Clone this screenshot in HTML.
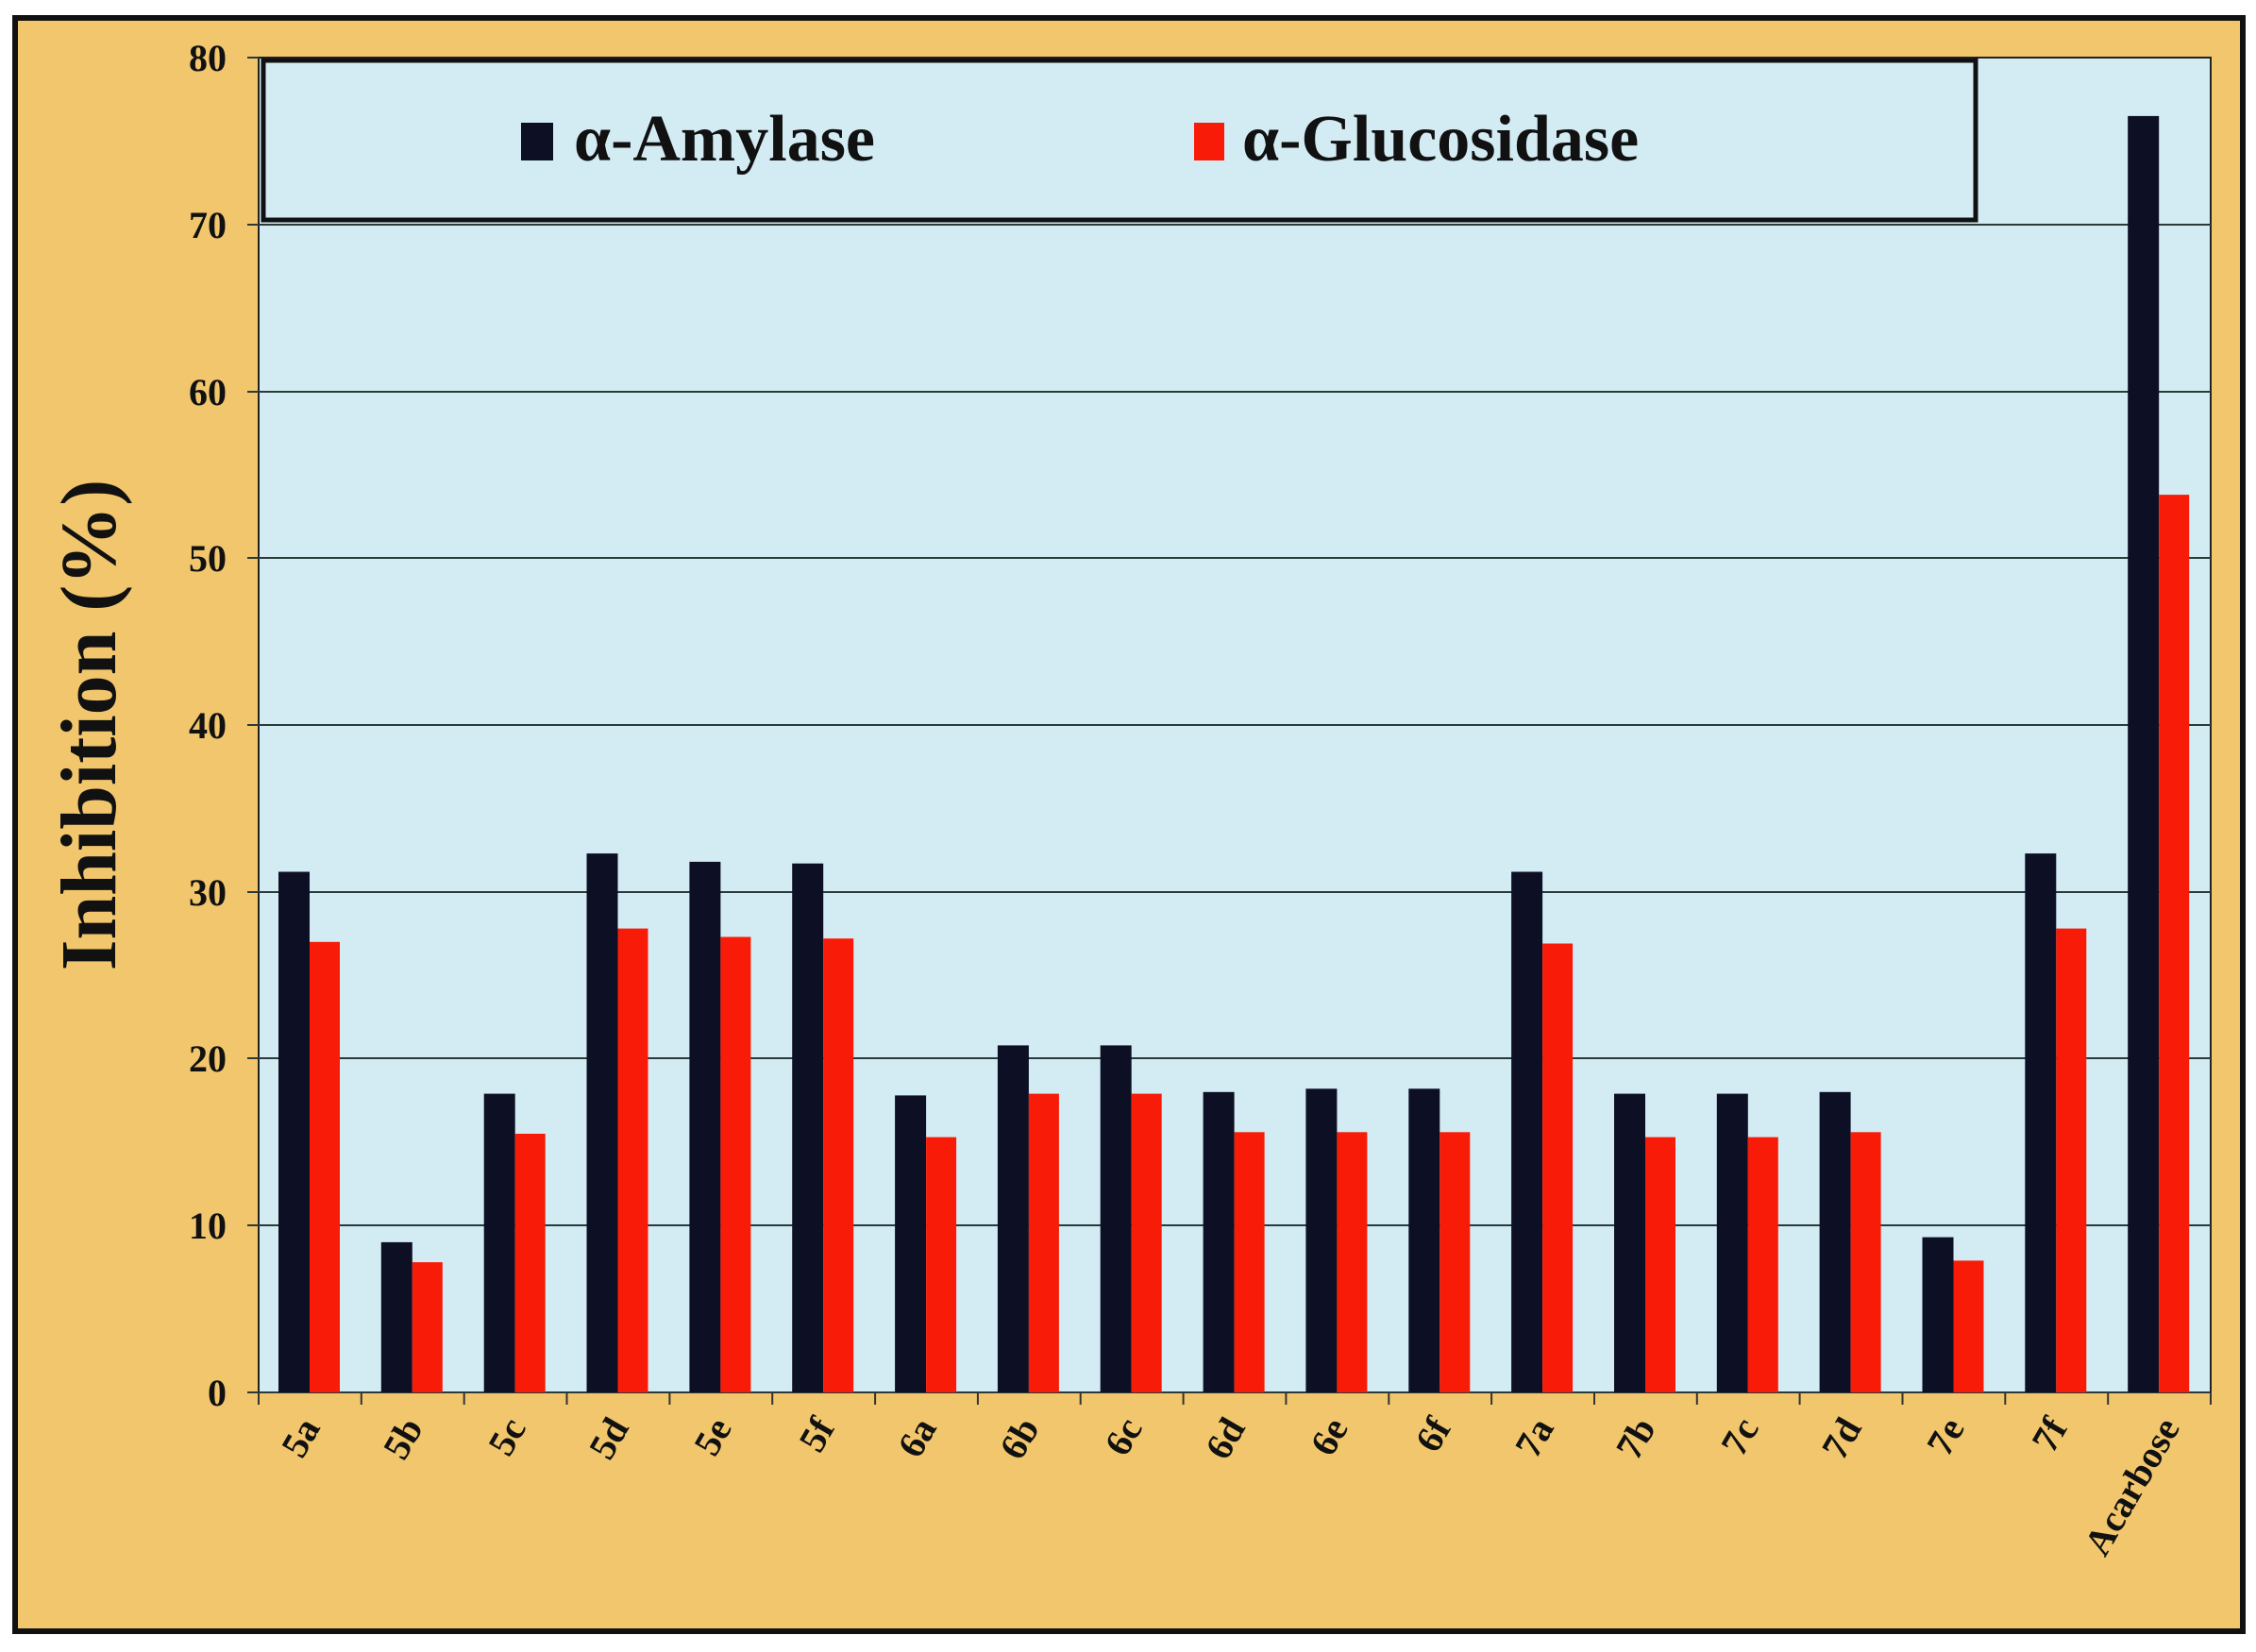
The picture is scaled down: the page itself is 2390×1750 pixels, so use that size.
<!DOCTYPE html>
<html><head><meta charset="utf-8"><style>
html,body{margin:0;padding:0;background:#fff;}
svg{display:block;}
</style></head><body>
<svg width="2390" height="1750" viewBox="0 0 2390 1750" xmlns="http://www.w3.org/2000/svg">
<rect x="0" y="0" width="2390" height="1750" fill="#fff"/>
<rect x="16" y="19" width="2360" height="1709" fill="#f1c66c" stroke="#111" stroke-width="6"/>
<rect x="274" y="61" width="2068" height="1414" fill="#d3ecf4" stroke="#222" stroke-width="2"/>
<g stroke="#2a3a3a" stroke-width="2">
<line x1="262" y1="238" x2="2342" y2="238"/>
<line x1="262" y1="415" x2="2342" y2="415"/>
<line x1="262" y1="591" x2="2342" y2="591"/>
<line x1="262" y1="768" x2="2342" y2="768"/>
<line x1="262" y1="945" x2="2342" y2="945"/>
<line x1="262" y1="1121" x2="2342" y2="1121"/>
<line x1="262" y1="1298" x2="2342" y2="1298"/>
<line x1="262" y1="1475" x2="2342" y2="1475"/>
<line x1="262" y1="61" x2="274" y2="61"/>
</g>
<g font-family="Liberation Serif, serif" font-weight="bold" font-size="40" text-anchor="end" fill="#111">
<text x="240" y="75">80</text><text x="240" y="252">70</text><text x="240" y="429">60</text><text x="240" y="605">50</text><text x="240" y="782">40</text><text x="240" y="959">30</text><text x="240" y="1135">20</text><text x="240" y="1312">10</text><text x="240" y="1489">0</text>
</g>
<text transform="translate(122,768) rotate(-90)" font-family="Liberation Serif, serif" font-weight="bold" font-size="84" text-anchor="middle" fill="#111">Inhibition  (%)</text>
<g fill="#0d1024">
<rect x="295" y="923.5" width="33" height="551.5"/>
<rect x="403.8" y="1315.9" width="33" height="159.1"/>
<rect x="512.7" y="1158.6" width="33" height="316.4"/>
<rect x="621.5" y="904.1" width="33" height="570.9"/>
<rect x="730.4" y="912.9" width="33" height="562.1"/>
<rect x="839.2" y="914.7" width="33" height="560.3"/>
<rect x="948.1" y="1160.4" width="33" height="314.6"/>
<rect x="1056.9" y="1107.4" width="33" height="367.6"/>
<rect x="1165.7" y="1107.4" width="33" height="367.6"/>
<rect x="1274.6" y="1156.8" width="33" height="318.2"/>
<rect x="1383.4" y="1153.3" width="33" height="321.7"/>
<rect x="1492.3" y="1153.3" width="33" height="321.7"/>
<rect x="1601.1" y="923.5" width="33" height="551.5"/>
<rect x="1710" y="1158.6" width="33" height="316.4"/>
<rect x="1818.8" y="1158.6" width="33" height="316.4"/>
<rect x="1927.6" y="1156.8" width="33" height="318.2"/>
<rect x="2036.5" y="1310.6" width="33" height="164.4"/>
<rect x="2145.3" y="904.1" width="33" height="570.9"/>
<rect x="2254.2" y="122.9" width="33" height="1352.1"/>
</g>
<g fill="#f81c08">
<rect x="328" y="997.8" width="32" height="477.2"/>
<rect x="436.8" y="1337.1" width="32" height="137.9"/>
<rect x="545.7" y="1201" width="32" height="274"/>
<rect x="654.5" y="983.6" width="32" height="491.4"/>
<rect x="763.4" y="992.5" width="32" height="482.5"/>
<rect x="872.2" y="994.2" width="32" height="480.8"/>
<rect x="981.1" y="1204.6" width="32" height="270.4"/>
<rect x="1089.9" y="1158.6" width="32" height="316.4"/>
<rect x="1198.7" y="1158.6" width="32" height="316.4"/>
<rect x="1307.6" y="1199.3" width="32" height="275.7"/>
<rect x="1416.4" y="1199.3" width="32" height="275.7"/>
<rect x="1525.3" y="1199.3" width="32" height="275.7"/>
<rect x="1634.1" y="999.5" width="32" height="475.5"/>
<rect x="1743" y="1204.6" width="32" height="270.4"/>
<rect x="1851.8" y="1204.6" width="32" height="270.4"/>
<rect x="1960.6" y="1199.3" width="32" height="275.7"/>
<rect x="2069.5" y="1335.4" width="32" height="139.6"/>
<rect x="2178.3" y="983.6" width="32" height="491.4"/>
<rect x="2287.2" y="524.1" width="32" height="950.9"/>
</g>
<g stroke="#333" stroke-width="2">
<line x1="274" y1="1475" x2="274" y2="1488"/><line x1="382.8" y1="1475" x2="382.8" y2="1488"/><line x1="491.7" y1="1475" x2="491.7" y2="1488"/><line x1="600.5" y1="1475" x2="600.5" y2="1488"/><line x1="709.4" y1="1475" x2="709.4" y2="1488"/><line x1="818.2" y1="1475" x2="818.2" y2="1488"/><line x1="927.1" y1="1475" x2="927.1" y2="1488"/><line x1="1035.9" y1="1475" x2="1035.9" y2="1488"/><line x1="1144.7" y1="1475" x2="1144.7" y2="1488"/><line x1="1253.6" y1="1475" x2="1253.6" y2="1488"/><line x1="1362.4" y1="1475" x2="1362.4" y2="1488"/><line x1="1471.3" y1="1475" x2="1471.3" y2="1488"/><line x1="1580.1" y1="1475" x2="1580.1" y2="1488"/><line x1="1689" y1="1475" x2="1689" y2="1488"/><line x1="1797.8" y1="1475" x2="1797.8" y2="1488"/><line x1="1906.6" y1="1475" x2="1906.6" y2="1488"/><line x1="2015.5" y1="1475" x2="2015.5" y2="1488"/><line x1="2124.3" y1="1475" x2="2124.3" y2="1488"/><line x1="2233.2" y1="1475" x2="2233.2" y2="1488"/><line x1="2342" y1="1475" x2="2342" y2="1488"/>
</g>
<g font-family="Liberation Serif, serif" font-weight="bold" font-size="40" text-anchor="end" fill="#111">
<text transform="translate(340,1512) rotate(-60)">5a</text>
<text transform="translate(449,1512) rotate(-60)">5b</text>
<text transform="translate(558,1512) rotate(-60)">5c</text>
<text transform="translate(667,1512) rotate(-60)">5d</text>
<text transform="translate(776,1512) rotate(-60)">5e</text>
<text transform="translate(885,1512) rotate(-60)">5f</text>
<text transform="translate(993,1512) rotate(-60)">6a</text>
<text transform="translate(1102,1512) rotate(-60)">6b</text>
<text transform="translate(1211,1512) rotate(-60)">6c</text>
<text transform="translate(1320,1512) rotate(-60)">6d</text>
<text transform="translate(1429,1512) rotate(-60)">6e</text>
<text transform="translate(1538,1512) rotate(-60)">6f</text>
<text transform="translate(1647,1512) rotate(-60)">7a</text>
<text transform="translate(1755,1512) rotate(-60)">7b</text>
<text transform="translate(1864,1512) rotate(-60)">7c</text>
<text transform="translate(1973,1512) rotate(-60)">7d</text>
<text transform="translate(2082,1512) rotate(-60)">7e</text>
<text transform="translate(2191,1512) rotate(-60)">7f</text>
<text transform="translate(2310,1512) rotate(-60)">Acarbose</text>
</g>
<rect x="279" y="64" width="1814" height="169" fill="#d3ecf4" stroke="#111" stroke-width="5"/>
<rect x="552" y="130" width="34" height="40" fill="#0d1024"/>
<text x="608" y="170" font-family="Liberation Serif, serif" font-weight="bold" font-size="70" fill="#111">α-Amylase</text>
<rect x="1265" y="130" width="32" height="40" fill="#f81c08"/>
<text x="1316" y="170" font-family="Liberation Serif, serif" font-weight="bold" font-size="70" fill="#111">α-Glucosidase</text>
</svg>
</body></html>
